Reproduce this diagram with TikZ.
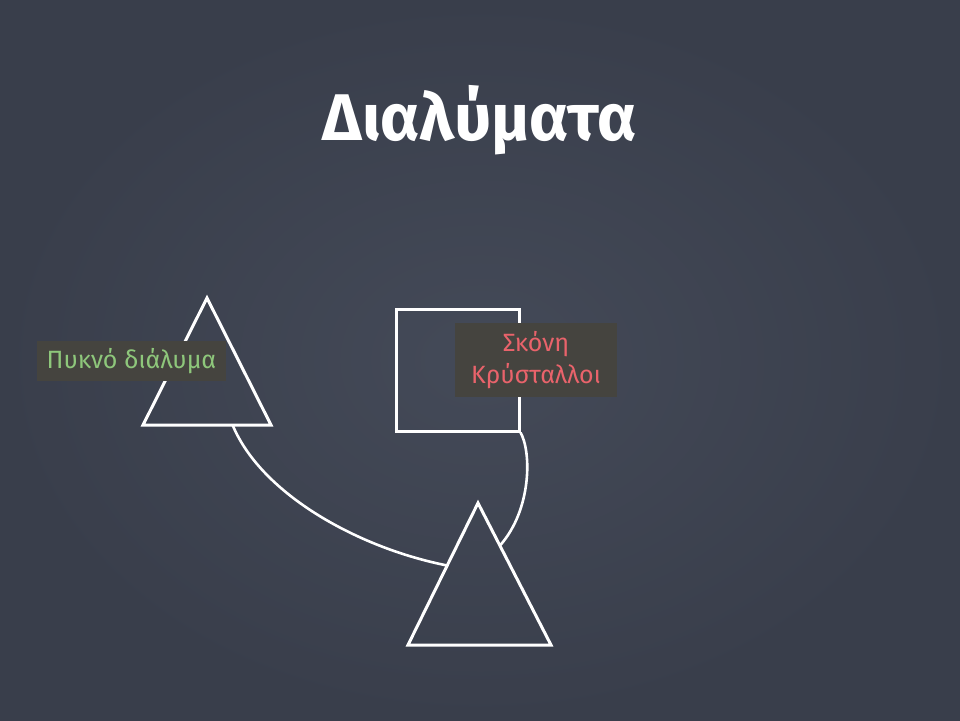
\documentclass[tikz,border=0pt]{standalone}
\usepackage{fontspec}
\setmainfont{Fira Sans}
\usetikzlibrary{positioning,calc}
\definecolor{boardlight}{HTML}{444A58}
\definecolor{boarddark}{HTML}{393E4B}
\definecolor{tagfill}{HTML}{45443F}
\definecolor{leafgreen}{HTML}{8EC77B}
\definecolor{chalkred}{HTML}{E9636B}

\begin{document}
\begin{tikzpicture}[x=1pt,y=-1pt,
  chalk/.style={draw=white, line width=3pt},
  link/.style={draw=white, line width=2.6pt},
  tag/.style={fill=tagfill, inner sep=0pt, align=center,
    font=\fontsize{25}{32}\selectfont}]
  \useasboundingbox (0,0) rectangle (960,720);
  \fill[inner color=boardlight, outer color=boarddark] (0,0) rectangle (960,720);

  \node[text=white, anchor=base, font=\bfseries\fontsize{66}{66}\selectfont] (title) at (480,140) {Διαλύματα};

  % left triangle
  \coordinate (lt) at (207,298);
  \coordinate (ll) at (143,425);
  \coordinate (lr) at (271,425);
  \draw[chalk] (lt) -- (ll) -- (lr) -- cycle;
  \node[tag, text=leafgreen, minimum width=189, minimum height=40] (dense) at (131.5,361) {Πυκνό διάλυμα};

  % square
  \node[chalk, minimum width=123, minimum height=122, inner sep=0pt] (cup) at (457.5,370) {};
  \node[tag, text=chalkred, minimum width=162, minimum height=74] (powder) at (536,360) {Σκόνη\\Κρύσταλλοι};

  % bottom triangle
  \coordinate (bt) at (478,503);
  \coordinate (bl) at (408,645);
  \coordinate (br) at (551,645);
  \draw[chalk] (bt) -- (bl) -- (br) -- cycle;

  \coordinate (lfoot) at ($(ll)!0.7!(lr)$);
  \coordinate (bin) at ($(bt)!0.44!(bl)$);
  \coordinate (bout) at ($(bt)!0.3!(br)$);
  \draw[link] (lfoot) .. controls +(29,70) and +(-87,-17) .. (bin);
  \draw[link] (cup.south east) .. controls +(11,19) and +(32,-36) .. (bout);
\end{tikzpicture}
\end{document}
